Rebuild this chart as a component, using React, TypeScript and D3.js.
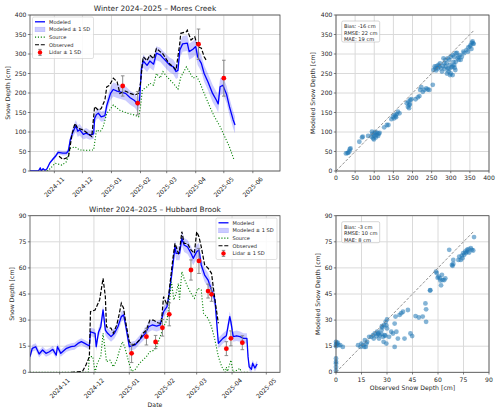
import React from "react";
import * as d3 from "d3";

type Pt = [string, number];
type PtSd = [string, number, number];
type XY = [number, number];

// ---------------- Mores Creek (top) ----------------
const mcModeled: PtSd[] = [
  ["2024-10-06", 0, 0], ["2024-10-15", 0, 0], ["2024-10-17", 8, 2], ["2024-10-18", 0, 1],
  ["2024-10-20", 6, 2], ["2024-10-22", 2, 1], ["2024-10-24", 5, 2], ["2024-10-27", 20, 3],
  ["2024-10-31", 32, 4], ["2024-11-02", 37, 5], ["2024-11-05", 48, 5], ["2024-11-10", 46, 6],
  ["2024-11-14", 46, 6], ["2024-11-16", 52, 7], ["2024-11-18", 80, 10], ["2024-11-21", 101, 13],
  ["2024-11-24", 116, 15], ["2024-11-26", 102, 15], ["2024-11-28", 106, 15], ["2024-12-02", 94, 13],
  ["2024-12-05", 97, 13], ["2024-12-09", 92, 12], ["2024-12-13", 95, 12], ["2024-12-14", 135, 13],
  ["2024-12-16", 145, 13], ["2024-12-18", 148, 13], ["2024-12-21", 139, 13], ["2024-12-25", 142, 14],
  ["2024-12-27", 168, 15], ["2024-12-31", 199, 17], ["2025-01-03", 209, 18], ["2025-01-07", 205, 18],
  ["2025-01-10", 203, 18], ["2025-01-16", 199, 18], ["2025-01-21", 188, 18], ["2025-01-26", 180, 18],
  ["2025-01-29", 169, 18], ["2025-01-31", 182, 18], ["2025-02-02", 262, 17], ["2025-02-04", 282, 17],
  ["2025-02-08", 271, 17], ["2025-02-11", 282, 17], ["2025-02-15", 274, 17], ["2025-02-18", 302, 18],
  ["2025-02-22", 298, 18], ["2025-02-25", 290, 18], ["2025-03-01", 280, 19], ["2025-03-04", 272, 19],
  ["2025-03-08", 267, 19], ["2025-03-11", 255, 19], ["2025-03-13", 258, 19], ["2025-03-15", 310, 20],
  ["2025-03-18", 326, 20], ["2025-03-23", 328, 20], ["2025-03-25", 306, 21], ["2025-03-29", 312, 21],
  ["2025-04-01", 319, 21], ["2025-04-03", 293, 21], ["2025-04-07", 276, 21], ["2025-04-10", 250, 21],
  ["2025-04-14", 229, 21], ["2025-04-19", 199, 22], ["2025-04-23", 182, 22], ["2025-04-25", 172, 22],
  ["2025-04-27", 216, 22], ["2025-04-30", 220, 22], ["2025-05-02", 208, 22], ["2025-05-04", 196, 22],
  ["2025-05-07", 165, 22], ["2025-05-11", 131, 22], ["2025-05-13", 118, 22],
];

const mcObserved: Pt[] = [
  ["2024-11-06", 38], ["2024-11-10", 30], ["2024-11-16", 35], ["2024-11-20", 96], ["2024-11-23", 122],
  ["2024-11-26", 110], ["2024-12-02", 105], ["2024-12-07", 96], ["2024-12-11", 88], ["2024-12-14", 165],
  ["2024-12-18", 156], ["2024-12-21", 160], ["2024-12-25", 182], ["2024-12-27", 216], ["2024-12-30", 220],
  ["2025-01-03", 238], ["2025-01-07", 229], ["2025-01-10", 199], ["2025-01-16", 205], ["2025-01-21", 199],
  ["2025-01-26", 195], ["2025-01-30", 199], ["2025-02-01", 225], ["2025-02-03", 276], ["2025-02-04", 293],
  ["2025-02-08", 283], ["2025-02-11", 297], ["2025-02-15", 288], ["2025-02-18", 314], ["2025-02-22", 306],
  ["2025-02-25", 300], ["2025-03-01", 285], ["2025-03-04", 275], ["2025-03-08", 267], ["2025-03-11", 259],
  ["2025-03-15", 328], ["2025-03-16", 353], ["2025-03-22", 357], ["2025-03-23", 361], ["2025-03-27", 336],
  ["2025-03-31", 344], ["2025-04-03", 319], ["2025-04-07", 315], ["2025-04-10", 293], ["2025-04-12", 285],
];

const mcSource: Pt[] = [
  ["2024-10-24", 0], ["2024-10-27", 5], ["2024-11-02", 20], ["2024-11-09", 15], ["2024-11-14", 24],
  ["2024-11-18", 58], ["2024-11-23", 62], ["2024-11-28", 54], ["2024-12-05", 53], ["2024-12-13", 54],
  ["2024-12-16", 105], ["2024-12-20", 101], ["2024-12-23", 112], ["2024-12-27", 148], ["2024-12-30", 156],
  ["2025-01-03", 169], ["2025-01-10", 156], ["2025-01-18", 148], ["2025-01-25", 144], ["2025-01-30", 139],
  ["2025-02-01", 165], ["2025-02-03", 208], ["2025-02-08", 216], ["2025-02-11", 225], ["2025-02-15", 220],
  ["2025-02-18", 250], ["2025-02-22", 238], ["2025-02-25", 255], ["2025-03-01", 242], ["2025-03-08", 225],
  ["2025-03-13", 210], ["2025-03-16", 240], ["2025-03-22", 267], ["2025-03-25", 255], ["2025-03-29", 238],
  ["2025-04-02", 242], ["2025-04-05", 229], ["2025-04-10", 199], ["2025-04-16", 165], ["2025-04-21", 139],
  ["2025-04-27", 114], ["2025-05-02", 88], ["2025-05-07", 62], ["2025-05-12", 28],
];

const mcLidar: PtSd[] = [
  ["2025-01-13", 218, 26], ["2025-01-29", 174, 30], ["2025-04-04", 325, 39], ["2025-05-01", 238, 46],
];

const mcScatter: XY[] = [
  [26, 45], [30, 46], [32, 47], [35, 50], [36, 56], [38, 58],
  [61, 75], [68, 86], [70, 88], [84, 90],
  [93, 88], [95, 95], [97, 84], [100, 90], [101, 97], [104, 86], [106, 92], [108, 98], [112, 95],
  [114, 98], [99, 81], [94, 101], [103, 100], [110, 90],
  [126, 112], [133, 118], [137, 118],
  [145, 133], [149, 139], [153, 144], [156, 141], [159, 146], [162, 152], [166, 148], [152, 135], [157, 138],
  [185, 174], [188, 165], [191, 161], [192, 169], [194, 182], [197, 184], [189, 178], [193, 172],
  [208, 184], [214, 189], [218, 192], [220, 208], [223, 215], [227, 203], [231, 208], [236, 212],
  [240, 209], [244, 208], [253, 221],
  [255, 259], [260, 263], [263, 269], [270, 268], [275, 263], [279, 269], [281, 289], [286, 285],
  [289, 276], [292, 263], [294, 255], [298, 246], [300, 250], [305, 268], [309, 272], [312, 259],
  [313, 280], [318, 289], [320, 293], [324, 297], [326, 285], [329, 293], [333, 306], [335, 302],
  [296, 285], [300, 293], [305, 297], [309, 293], [313, 302], [283, 276], [287, 268], [277, 255],
  [272, 276], [266, 263], [305, 246], [316, 303], [321, 285], [292, 289], [298, 272], [307, 280],
  [258, 268], [262, 258], [268, 272], [284, 262], [290, 250], [296, 262], [302, 266], [310, 265],
  [341, 310], [346, 317], [352, 323], [355, 329], [358, 327], [350, 319], [357, 332], [360, 326],
  [354, 313], [345, 306],
];
const mcStats = ["Bias: -16 cm", "RMSE: 22 cm", "MAE: 19 cm"];

// ---------------- Hubbard Brook (bottom) ----------------
const hbModeled: PtSd[] = [
  ["2024-10-06", 9, 2], ["2024-10-08", 13.8, 2], ["2024-10-11", 14.7, 2], ["2024-10-14", 10.5, 2],
  ["2024-10-17", 12.8, 2], ["2024-10-20", 10.9, 2], ["2024-10-23", 11.8, 2], ["2024-10-26", 13.2, 2],
  ["2024-10-29", 9.9, 2], ["2024-10-30", 14.7, 2], ["2024-11-02", 10.9, 2], ["2024-11-07", 13.8, 2],
  ["2024-11-11", 14.7, 2], ["2024-11-14", 15, 2], ["2024-11-17", 16.6, 2], ["2024-11-20", 17.6, 2],
  ["2024-11-23", 16.6, 2], ["2024-11-27", 15.1, 2], ["2024-11-28", 23.3, 2.5], ["2024-12-02", 22.4, 2.5],
  ["2024-12-03", 14.7, 2.5], ["2024-12-05", 23, 2.5], ["2024-12-07", 26.2, 3], ["2024-12-09", 35.8, 3],
  ["2024-12-11", 24.3, 3], ["2024-12-13", 22.4, 3], ["2024-12-16", 20.5, 3], ["2024-12-19", 22.4, 3],
  ["2024-12-22", 26.2, 3], ["2024-12-25", 32, 3], ["2024-12-27", 33, 3], ["2024-12-29", 26.2, 3],
  ["2025-01-01", 14.7, 2.5], ["2025-01-06", 15.7, 2.5], ["2025-01-10", 18.6, 2.5], ["2025-01-15", 22.4, 3],
  ["2025-01-18", 26.2, 3], ["2025-01-21", 27.2, 3], ["2025-01-25", 26.5, 3], ["2025-01-28", 27.2, 3],
  ["2025-01-31", 34.8, 3], ["2025-02-03", 37.7, 3], ["2025-02-05", 45.4, 3.5], ["2025-02-08", 60.7, 4],
  ["2025-02-10", 72.2, 4], ["2025-02-11", 68.4, 4], ["2025-02-14", 68.4, 4], ["2025-02-16", 77, 4],
  ["2025-02-18", 73.2, 4], ["2025-02-21", 72, 4], ["2025-02-24", 68.4, 4], ["2025-02-26", 65.5, 4],
  ["2025-03-01", 69.3, 4], ["2025-03-03", 70.3, 4], ["2025-03-05", 61.7, 4], ["2025-03-08", 55.9, 4],
  ["2025-03-11", 53, 4], ["2025-03-14", 47.3, 4], ["2025-03-17", 41.6, 4], ["2025-03-20", 16.7, 3],
  ["2025-03-24", 19.5, 3], ["2025-03-27", 21, 3], ["2025-03-30", 32, 3], ["2025-03-31", 29, 3],
  ["2025-04-02", 20.5, 3], ["2025-04-05", 21, 3], ["2025-04-08", 20.5, 3], ["2025-04-11", 19.5, 3],
  ["2025-04-14", 19.5, 3], ["2025-04-15", 9, 2.5], ["2025-04-16", 3.2, 2], ["2025-04-18", 1.7, 2],
  ["2025-04-19", 5.2, 2], ["2025-04-21", 2.5, 2], ["2025-04-23", 4.8, 2],
];

const hbObserved: Pt[] = [
  ["2024-11-11", 0], ["2024-11-21", 0.5], ["2024-11-24", 4.2], ["2024-11-27", 9], ["2024-11-28", 34.8],
  ["2024-12-02", 35.8], ["2024-12-06", 41.6], ["2024-12-09", 54], ["2024-12-11", 43.5], ["2024-12-12", 26.2],
  ["2024-12-16", 25.3], ["2024-12-18", 22.4], ["2024-12-21", 27.2], ["2024-12-23", 33], ["2024-12-25", 39.7],
  ["2024-12-27", 36.8], ["2024-12-29", 28.2], ["2025-01-01", 17.6], ["2025-01-04", 15.7], ["2025-01-07", 16.6],
  ["2025-01-10", 18.6], ["2025-01-13", 22.4], ["2025-01-16", 24.3], ["2025-01-19", 30], ["2025-01-22", 30],
  ["2025-01-26", 28.5], ["2025-01-29", 28], ["2025-01-31", 43.5], ["2025-02-03", 38.7], ["2025-02-04", 41],
  ["2025-02-05", 47.3], ["2025-02-08", 64.5], ["2025-02-10", 74.1], ["2025-02-13", 68.4], ["2025-02-14", 70],
  ["2025-02-16", 80.8], ["2025-02-18", 74.1], ["2025-02-21", 74], ["2025-02-24", 70.3], ["2025-02-27", 68.4],
  ["2025-03-01", 80.8], ["2025-03-03", 77.9], ["2025-03-05", 72.2], ["2025-03-08", 61.7], ["2025-03-11", 59.8],
  ["2025-03-14", 56.9], ["2025-03-17", 41.6], ["2025-03-20", 28.2],
];

const hbSource: Pt[] = [
  ["2024-10-06", 0], ["2024-11-26", 0], ["2024-11-27", 9], ["2024-11-30", 9], ["2024-12-02", 0],
  ["2024-12-04", 5.2], ["2024-12-07", 9], ["2024-12-09", 22.4], ["2024-12-11", 11.8], ["2024-12-12", 6.1],
  ["2024-12-15", 7], ["2024-12-18", 3.2], ["2024-12-21", 7], ["2024-12-23", 11.8], ["2024-12-26", 17.6],
  ["2024-12-28", 14.5], ["2024-12-31", 7], ["2025-01-03", 0.5], ["2025-01-06", 1.5], ["2025-01-10", 5.2],
  ["2025-01-16", 9], ["2025-01-19", 11.8], ["2025-01-22", 12.5], ["2025-01-25", 14.7], ["2025-01-28", 20.5],
  ["2025-01-31", 26.2], ["2025-02-03", 30], ["2025-02-05", 39.7], ["2025-02-07", 52], ["2025-02-09", 41.6],
  ["2025-02-11", 45.4], ["2025-02-13", 51.1], ["2025-02-14", 41.6], ["2025-02-16", 57.8], ["2025-02-18", 54],
  ["2025-02-21", 49.2], ["2025-02-24", 45.4], ["2025-02-27", 42.5], ["2025-03-02", 48.3], ["2025-03-05", 47.3],
  ["2025-03-07", 33.9], ["2025-03-11", 31], ["2025-03-14", 26.2], ["2025-03-17", 18.6], ["2025-03-20", 9],
  ["2025-03-23", 3.2], ["2025-03-26", 0], ["2025-03-27", 3], ["2025-03-28", 0.5], ["2025-03-31", 7],
  ["2025-04-02", 0], ["2025-04-08", 2.3], ["2025-04-09", 0], ["2025-04-16", 0],
];

const hbLidar: PtSd[] = [
  ["2025-01-03", 10.9, 5.3], ["2025-01-16", 20.5, 4.8], ["2025-01-24", 17.4, 3.8], ["2025-01-30", 25.6, 4.8],
  ["2025-02-05", 33.3, 6.6], ["2025-02-24", 58.8, 5.8], ["2025-03-03", 64, 7.2], ["2025-03-11", 46.7, 4],
  ["2025-03-14", 44.8, 4], ["2025-03-27", 13.6, 4], ["2025-03-31", 19.5, 4.3], ["2025-04-10", 17, 4],
];

const hbScatter: XY[] = [
  [0, 5], [0, 3], [0, 1], [0, 6], [0, 8], [0, 17.5], [0.5, 16.5], [1, 17], [1.5, 15.6], [2.5, 15.6],
  [4, 14.6], [0, 15], [0, 16],
  [13, 15.6], [14.4, 14.6], [15, 16.5], [16, 15.6], [16.6, 14.6], [17.5, 14.6], [17.9, 16.5], [17, 18.5],
  [18.3, 17.5], [19.5, 20.4], [20.8, 20.4], [21.8, 21.3], [22.8, 22.3], [23.8, 20.8], [24.7, 22],
  [25.3, 19.4], [25.7, 21.3], [26.7, 22], [27.7, 20.4], [28, 17.5], [28.6, 21.3], [29.6, 16.5], [30, 25.2],
  [29.6, 27], [29.2, 29], [30, 30.4], [31.2, 20.4], [32.5, 23.3], [33.5, 22.3], [34.5, 14.6], [34.5, 28],
  [35, 32], [35.5, 23.3], [36.4, 19.4], [37.4, 33], [38.4, 34], [39.4, 34.8], [40.3, 19.4], [42.3, 35.8],
  [43.8, 22.3], [44.8, 20.8], [46.8, 32.3], [48.7, 31.5], [51, 32], [53, 29], [53, 36.2], [52.6, 39.6],
  [27.3, 25.8], [28.2, 27.1], [26.7, 24.2], [22.2, 19.4], [24.2, 23.3], [25, 22.5], [27, 26.5], [29, 21],
  [55.3, 47], [55.5, 47.2],
  [60.4, 55], [61.2, 54], [62.3, 56], [62.7, 53], [61.8, 50], [63.7, 53], [64.3, 54], [61.4, 52.7],
  [59.8, 54.4], [58.8, 57.9], [59.2, 57],
  [66.6, 70.4], [68.2, 61.7], [68.6, 61.2], [69, 62.3], [69, 64.6],
  [73.4, 64.6], [74.4, 65.6], [74, 67], [75.4, 67.5], [76.4, 68.5], [77.3, 69.4], [77.9, 70.8],
  [79.3, 71.3], [79.9, 70.4], [78.3, 68.8], [80.7, 70], [76, 69.4], [77, 70.4], [74.8, 68.5],
  [72, 64.6], [72.5, 66.5], [81.2, 77.7],
];
const hbStats = ["Bias: -3 cm", "RMSE: 10 cm", "MAE: 8 cm"];

const legendLabels = ["Modeled", "Modeled \u00b1 1 SD", "Source", "Observed", "Lidar \u00b1 1 SD"];

// ---------------- styling ----------------
const FONT = "DejaVu Sans, Verdana, sans-serif";
const TICK_FS = 6.1;
const LABEL_FS = 6.2;
const TITLE_FS = 7.4;
const LEG_FS = 5.1;
const GRID = "#dadada";
const SPINE = "#4a4a4a";
const TXT = "#262626";
const parse = (s: string) => new Date(s + "T00:00:00Z");

function Legend({ x, y }: { x: number; y: number }) {
  const w = 61, h = 41.5, step = 7.65;
  return (
    <g transform={`translate(${x},${y})`}>
      <rect x={0} y={0} width={w} height={h} rx={1.5} fill="white" fillOpacity={0.85} stroke="#cccccc" strokeWidth={0.6} />
      {legendLabels.map((lab, i) => {
        const cy = 4.8 + i * step;
        const hx0 = 2.5, hx1 = 12.5;
        let handle: React.ReactNode = null;
        if (i === 0) handle = <line x1={hx0} x2={hx1} y1={cy} y2={cy} stroke="#0000ff" strokeWidth={1.3} />;
        if (i === 1) handle = <rect x={hx0} y={cy - 2.3} width={hx1 - hx0} height={4.6} fill="#0000ff" fillOpacity={0.2} stroke="#0000ff" strokeOpacity={0.2} strokeWidth={0.5} />;
        if (i === 2) handle = <line x1={hx0} x2={hx1} y1={cy} y2={cy} stroke="#008000" strokeWidth={1.1} strokeDasharray="1.1,1.8" />;
        if (i === 3) handle = <line x1={hx0} x2={hx1} y1={cy} y2={cy} stroke="black" strokeWidth={1.2} strokeDasharray="4,1.8" />;
        if (i === 4) handle = (
          <g>
            <line x1={7.5} x2={7.5} y1={cy - 3} y2={cy + 3} stroke="#808080" strokeWidth={0.9} />
            <line x1={5.8} x2={9.2} y1={cy - 3} y2={cy - 3} stroke="#808080" strokeWidth={0.9} />
            <line x1={5.8} x2={9.2} y1={cy + 3} y2={cy + 3} stroke="#808080" strokeWidth={0.9} />
            <circle cx={7.5} cy={cy} r={2.2} fill="#ff0000" />
          </g>
        );
        return (
          <g key={lab}>
            {handle}
            <text x={16.5} y={cy} dy="0.35em" fontSize={LEG_FS} fill={TXT}>{lab}</text>
          </g>
        );
      })}
    </g>
  );
}

type TSProps = {
  id: string; top: number; bottom: number; left: number; right: number;
  start: string; end: string; ymax: number; ystep: number; title: string;
  modeled: PtSd[]; observed: Pt[]; source: Pt[]; lidar: PtSd[];
  legendX: number; legendY: number; xlabel?: string; ylabelX: number;
};

function TSPanel(p: TSProps) {
  const x = d3.scaleUtc().domain([parse(p.start), parse(p.end)]).range([p.left, p.right]);
  const y = d3.scaleLinear().domain([0, p.ymax]).range([p.bottom, p.top]);
  const xt = x.ticks(d3.utcMonth.every(1) as any);
  const yt = d3.range(0, p.ymax + 0.001, p.ystep);
  const line = d3.line<Pt>().x(d => x(parse(d[0]))).y(d => y(d[1]));
  const lineSd = d3.line<PtSd>().x(d => x(parse(d[0]))).y(d => y(d[1]));
  const area = d3.area<PtSd>().x(d => x(parse(d[0]))).y0(d => y(d[1] - d[2])).y1(d => y(d[1] + d[2]));
  const fmt = d3.utcFormat("%Y-%m");
  const cx = (p.left + p.right) / 2;
  return (
    <g>
      <defs>
        <clipPath id={p.id}>
          <rect x={p.left} y={p.top} width={p.right - p.left} height={p.bottom - p.top} />
        </clipPath>
      </defs>
      {xt.map((t, i) => (
        <line key={"gx" + i} x1={x(t)} x2={x(t)} y1={p.top} y2={p.bottom} stroke={GRID} strokeWidth={1} />
      ))}
      {yt.map((v, i) => (
        <line key={"gy" + i} x1={p.left} x2={p.right} y1={y(v)} y2={y(v)} stroke={GRID} strokeWidth={1} />
      ))}
      <g clipPath={`url(#${p.id})`}>
        <path d={area(p.modeled) ?? ""} fill="#0000ff" fillOpacity={0.2} stroke="none" />
        <path d={lineSd(p.modeled) ?? ""} fill="none" stroke="#0000ff" strokeWidth={1.3} strokeLinejoin="round" />
        <path d={line(p.source) ?? ""} fill="none" stroke="#008000" strokeWidth={1.1} strokeDasharray="1.1,1.8" />
        <path d={line(p.observed) ?? ""} fill="none" stroke="black" strokeWidth={1.2} strokeDasharray="4,1.8" />
        {p.lidar.map((d, i) => {
          const px = x(parse(d[0]));
          const y0 = y(d[1] - d[2]), y1 = y(d[1] + d[2]);
          return (
            <g key={"l" + i}>
              <line x1={px} x2={px} y1={y0} y2={y1} stroke="#808080" strokeWidth={0.9} />
              <line x1={px - 1.8} x2={px + 1.8} y1={y0} y2={y0} stroke="#808080" strokeWidth={0.9} />
              <line x1={px - 1.8} x2={px + 1.8} y1={y1} y2={y1} stroke="#808080" strokeWidth={0.9} />
              <circle cx={px} cy={y(d[1])} r={2.4} fill="#ff0000" />
            </g>
          );
        })}
      </g>
      <rect x={p.left} y={p.top} width={p.right - p.left} height={p.bottom - p.top} fill="none" stroke={SPINE} strokeWidth={0.8} />
      {xt.map((t, i) => (
        <g key={"tx" + i}>
          <line x1={x(t)} x2={x(t)} y1={p.bottom} y2={p.bottom + 2.2} stroke={SPINE} strokeWidth={0.7} />
          <text transform={`translate(${x(t)},${p.bottom + 16}) rotate(-45)`} textAnchor="middle" dy="0.35em" fontSize={TICK_FS} fill={TXT}>{fmt(t)}</text>
        </g>
      ))}
      {yt.map((v, i) => (
        <g key={"ty" + i}>
          <line x1={p.left - 2.2} x2={p.left} y1={y(v)} y2={y(v)} stroke={SPINE} strokeWidth={0.7} />
          <text x={p.left - 3.6} y={y(v)} dy="0.35em" textAnchor="end" fontSize={TICK_FS} fill={TXT}>{v}</text>
        </g>
      ))}
      <text x={cx} y={p.top - 4} textAnchor="middle" fontSize={TITLE_FS} fill={TXT}>{p.title}</text>
      <text transform={`translate(${p.ylabelX},${(p.top + p.bottom) / 2}) rotate(-90)`} textAnchor="middle" dy="0.35em" fontSize={LABEL_FS} fill={TXT}>Snow Depth [cm]</text>
      {p.xlabel ? <text x={cx} y={p.bottom + 35} textAnchor="middle" fontSize={LABEL_FS} fill={TXT}>{p.xlabel}</text> : null}
      <Legend x={p.legendX} y={p.legendY} />
    </g>
  );
}

type SCProps = {
  top: number; bottom: number; left: number; right: number; max: number; step: number;
  pts: XY[]; stats: string[]; xlabel?: string; ylabelX: number;
};

function ScatterPanel(p: SCProps) {
  const x = d3.scaleLinear().domain([0, p.max]).range([p.left, p.right]);
  const y = d3.scaleLinear().domain([0, p.max]).range([p.bottom, p.top]);
  const ticks = d3.range(0, p.max + 0.001, p.step);
  const dmax = d3.max(p.pts, d => Math.max(d[0], d[1])) ?? p.max;
  return (
    <g>
      {ticks.map((v, i) => (
        <g key={"g" + i}>
          <line x1={x(v)} x2={x(v)} y1={p.top} y2={p.bottom} stroke={GRID} strokeWidth={1} />
          <line x1={p.left} x2={p.right} y1={y(v)} y2={y(v)} stroke={GRID} strokeWidth={1} />
        </g>
      ))}
      {p.pts.map((d, i) => (
        <circle key={"p" + i} cx={x(d[0])} cy={y(d[1])} r={2.4} fill="#1f77b4" fillOpacity={0.55} />
      ))}
      <line x1={x(0)} y1={y(0)} x2={x(dmax)} y2={y(dmax)} stroke="#777" strokeWidth={0.8} strokeDasharray="3,1.6" />
      <rect x={p.left} y={p.top} width={p.right - p.left} height={p.bottom - p.top} fill="none" stroke={SPINE} strokeWidth={0.8} />
      {ticks.map((v, i) => (
        <g key={"t" + i}>
          <line x1={x(v)} x2={x(v)} y1={p.bottom} y2={p.bottom + 2.2} stroke={SPINE} strokeWidth={0.7} />
          <text x={x(v)} y={p.bottom + 9.2} textAnchor="middle" fontSize={TICK_FS} fill={TXT}>{v}</text>
          <line x1={p.left - 2.2} x2={p.left} y1={y(v)} y2={y(v)} stroke={SPINE} strokeWidth={0.7} />
          <text x={p.left - 3.6} y={y(v)} dy="0.35em" textAnchor="end" fontSize={TICK_FS} fill={TXT}>{v}</text>
        </g>
      ))}
      <g transform={`translate(${p.left + 5.7},${p.top + 6})`}>
        <rect x={0} y={0} width={38} height={21} rx={1.5} fill="white" fillOpacity={0.85} stroke="#bbbbbb" strokeWidth={0.6} />
        {p.stats.map((s, i) => (
          <text key={s} x={2.2} y={5.4 + i * 6.6} dy="0.35em" fontSize={LEG_FS} fill={TXT}>{s}</text>
        ))}
      </g>
      <text transform={`translate(${p.ylabelX},${(p.top + p.bottom) / 2}) rotate(-90)`} textAnchor="middle" dy="0.35em" fontSize={LABEL_FS} fill={TXT}>Modeled Snow Depth [cm]</text>
      {p.xlabel ? <text x={(p.left + p.right) / 2} y={p.bottom + 18} textAnchor="middle" fontSize={LABEL_FS} fill={TXT}>{p.xlabel}</text> : null}
    </g>
  );
}

export default function App() {
  return (
    <svg width={500} height={413} viewBox="0 0 500 413" style={{ position: "absolute", left: 0, top: 0, background: "white" }} fontFamily={FONT}>
      <rect x={0} y={0} width={500} height={413} fill="white" />
      <TSPanel id="clipTop" top={15} bottom={171} left={30} right={280} start="2024-10-06" end="2025-06-30"
        ymax={400} ystep={50} title={"Winter 2024\u20132025 \u2013 Mores Creek"}
        modeled={mcModeled} observed={mcObserved} source={mcSource} lidar={mcLidar}
        legendX={32.5} legendY={17} ylabelX={8} />
      <TSPanel id="clipBot" top={215.7} bottom={372.3} left={30} right={280} start="2024-10-06" end="2025-05-13"
        ymax={90} ystep={15} title={"Winter 2024\u20132025 \u2013 Hubbard Brook"}
        modeled={hbModeled} observed={hbObserved} source={hbSource} lidar={hbLidar}
        legendX={216} legendY={218} xlabel="Date" ylabelX={12} />
      <ScatterPanel top={15} bottom={171} left={336} right={489} max={400} step={50}
        pts={mcScatter} stats={mcStats} ylabelX={313} />
      <ScatterPanel top={215.7} bottom={372.3} left={336} right={489} max={90} step={15}
        pts={hbScatter} stats={hbStats} xlabel="Observed Snow Depth [cm]" ylabelX={317.5} />
    </svg>
  );
}
